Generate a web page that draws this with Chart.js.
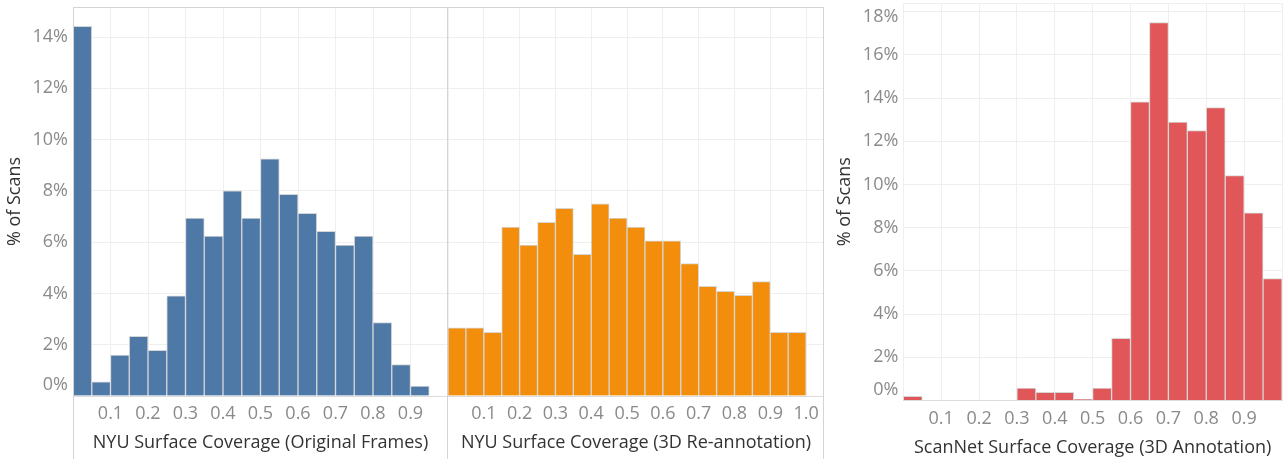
<!DOCTYPE html>
<html lang="en">
<head>
<meta charset="UTF-8">
<title>Surface Coverage Histograms</title>
<script src="https://cdn.jsdelivr.net/npm/chart.js"></script>
<style>
  body { margin: 0; background: #fff; }
  .wrap { position: relative; width: 1286px; height: 459px; overflow: hidden; }
  canvas { position: absolute; top: 0; }
  #nyuOrig { left: 0; }
  #nyuRe { left: 448px; }
  #scannet { left: 830px; }
</style>
</head>
<body>
<div class="wrap">
  <canvas id="nyuOrig" width="448" height="459"></canvas>
  <canvas id="nyuRe" width="376" height="459"></canvas>
  <canvas id="scannet" width="456" height="459"></canvas>
</div>
<script>
// histogram bins, each 0.05 wide (start value of bin)
const binStart = [0.00, 0.05, 0.10, 0.15, 0.20, 0.25, 0.30, 0.35, 0.40, 0.45,
                  0.50, 0.55, 0.60, 0.65, 0.70, 0.75, 0.80, 0.85, 0.90, 0.95];
const binWidth = 0.05;

// % of scans per bin
const nyuOriginal = [14.42, 0.55, 1.60, 2.33, 1.78, 3.91, 6.94, 6.24, 8.00, 6.94,
                     9.25, 7.86, 7.12, 6.42, 5.89, 6.24, 2.86, 1.23, 0.39, 0];
const nyuReannotation = [2.66, 2.66, 2.48, 6.59, 5.89, 6.77, 7.32, 5.52, 7.49, 6.94,
                         6.59, 6.05, 6.05, 5.16, 4.28, 4.08, 3.93, 4.46, 2.48, 2.48];
const scannet = [0.19, 0, 0, 0, 0, 0, 0.58, 0.38, 0.38, 0.05,
                 0.58, 2.88, 13.83, 17.49, 12.89, 12.49, 13.56, 10.41, 8.69, 5.64];

// tick labels
const xTicksShort = ['0.1', '0.2', '0.3', '0.4', '0.5', '0.6', '0.7', '0.8', '0.9'];
const xTicksLong = ['0.1', '0.2', '0.3', '0.4', '0.5', '0.6', '0.7', '0.8', '0.9', '1.0'];

const tickColor = '#8a8a8a';
const titleColor = '#333333';
const gridColor = '#efefef';
const paneColor = '#d4d4d4';

Chart.defaults.font.family = "'Open Sans', sans-serif";
Chart.defaults.font.size = 18;

// Tableau style pane borders that run down through the axis area
const paneFrame = {
  id: 'paneFrame',
  afterDatasetsDraw(chart, args, o) {
    if (!o.sides) return;
    const { ctx, chartArea: a, height } = chart;
    ctx.save();
    ctx.strokeStyle = o.color;
    ctx.lineWidth = 1;
    ctx.beginPath();
    if (o.sides.includes('top')) { ctx.moveTo(a.left, a.top + 0.5); ctx.lineTo(a.right, a.top + 0.5); }
    if (o.sides.includes('left')) { ctx.moveTo(a.left + 0.5, a.top); ctx.lineTo(a.left + 0.5, height); }
    if (o.sides.includes('right')) { ctx.moveTo(a.right - 0.5, a.top); ctx.lineTo(a.right - 0.5, height); }
    ctx.stroke();
    ctx.restore();
  }
};

// edge tick labels get nudged inside the pane, like Tableau does
const edgeLabels = {
  id: 'edgeLabels',
  afterDraw(chart, args, o) {
    if (!o.items) return;
    const y = chart.scales.y, ctx = chart.ctx;
    ctx.save();
    ctx.font = "18px 'Open Sans', sans-serif";
    ctx.fillStyle = tickColor;
    ctx.textAlign = 'right';
    ctx.textBaseline = 'middle';
    o.items.forEach(it => ctx.fillText(it.value + '%', y.right - 5, y.getPixelForValue(it.value) + it.dy));
    ctx.restore();
  }
};

function makeChart(id, values, color, cfg) {
  const edgeVals = cfg.edge.map(e => e.value);
  return new Chart(document.getElementById(id), {
    type: 'bar',
    data: {
      datasets: [{
        data: binStart.map((s, i) => ({ x: s + binWidth / 2, y: values[i] })),
        backgroundColor: color,
        borderColor: '#d6d6d6',
        borderWidth: 1,
        barPercentage: 1,
        categoryPercentage: 1
      }]
    },
    options: {
      responsive: false,
      animation: false,
      layout: { padding: cfg.padding },
      plugins: {
        legend: { display: false },
        tooltip: { enabled: false },
        paneFrame: { sides: cfg.frame, color: cfg.frameColor },
        edgeLabels: { items: cfg.edge }
      },
      scales: {
        x: {
          type: 'linear',
          min: 0,
          max: cfg.xMax,
          offset: false,
          grid: { color: gridColor, offset: false, drawTicks: false },
          border: { color: '#dcdcdc' },
          ticks: {
            stepSize: 0.1,
            includeBounds: false,
            autoSkip: false,
            maxRotation: 0,
            color: tickColor,
            padding: cfg.xPad,
            callback: v => {
              const s = v.toFixed(1);
              return cfg.xLabels.includes(s) && Math.abs(v - Number(s)) < 1e-6 ? s : '';
            }
          },
          title: {
            display: true,
            text: cfg.xTitle,
            color: titleColor,
            padding: { top: 0, bottom: cfg.xTitlePad }
          },
          afterFit: s => { s.height = cfg.xHeight; s.paddingLeft = 0; s.paddingRight = 0; }
        },
        y: {
          min: 0,
          max: cfg.yMax,
          grid: { color: gridColor, drawTicks: false },
          border: { display: false },
          ticks: {
            display: cfg.yAxis,
            stepSize: 2,
            includeBounds: false,
            color: tickColor,
            padding: 5,
            callback: v => (edgeVals.includes(v) || v % 2) ? '' : v + '%'
          },
          title: {
            display: cfg.yAxis,
            text: '% of Scans',
            color: titleColor,
            padding: { top: 4, bottom: 0 }
          },
          afterFit: s => { s.width = cfg.yWidth; s.paddingTop = 0; s.paddingBottom = 0; }
        }
      }
    },
    plugins: [paneFrame, edgeLabels]
  });
}

makeChart('nyuOrig', nyuOriginal, '#4e79a7', {
  padding: { top: 7, right: 0, left: 0, bottom: 0 },
  xMax: 1.0, xLabels: xTicksShort, xTitle: 'NYU Surface Coverage (Original Frames)',
  xHeight: 63, xPad: 7, xTitlePad: 5,
  yMax: 15.17, yAxis: true, yWidth: 73,
  edge: [{ value: 0, dy: -11 }],
  frame: ['top', 'left', 'right'], frameColor: paneColor
});

makeChart('nyuRe', nyuReannotation, '#f28e0c', {
  padding: { top: 7, right: 0, left: 0, bottom: 0 },
  xMax: 1.05, xLabels: xTicksLong, xTitle: 'NYU Surface Coverage (3D Re-annotation)',
  xHeight: 63, xPad: 7, xTitlePad: 5,
  yMax: 15.17, yAxis: false, yWidth: 0,
  edge: [],
  frame: ['top', 'right'], frameColor: paneColor
});

makeChart('scannet', scannet, '#e15759', {
  padding: { top: 3, right: 4, left: 0, bottom: 0 },
  xMax: 1.0, xLabels: xTicksShort, xTitle: 'ScanNet Surface Coverage (3D Annotation)',
  xHeight: 58.5, xPad: 8, xTitlePad: 0,
  yMax: 18.4, yAxis: true, yWidth: 73.3,
  edge: [{ value: 0, dy: -11 }, { value: 18, dy: 5 }],
  frame: ['top'], frameColor: gridColor
});
</script>
</body>
</html>
